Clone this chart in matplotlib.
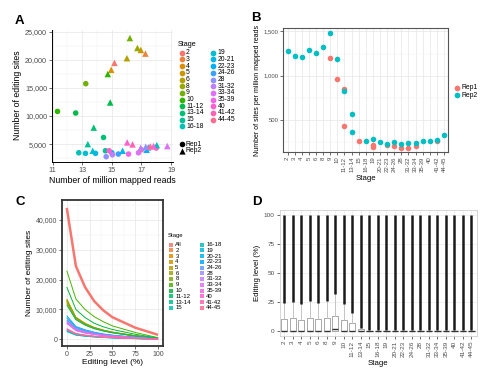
import numpy as np
import matplotlib
matplotlib.use("Agg")
import matplotlib.pyplot as plt
from matplotlib.ticker import FuncFormatter, MultipleLocator

plt.rcParams['font.family'] = ['Liberation Sans', 'DejaVu Sans']

# ---------------- data ----------------
stages = ["2", "3", "4", "5", "6", "8", "9", "10", "11-12", "13-14", "15", "16-18",
          "19", "20-21", "22-23", "24-26", "28", "31-32", "33-34", "35-39", "40",
          "41-42", "44-45"]

# Panel A: Rep1 (circles), stages 9 onward
a_rep1_stage = ["9", "10", "11-12", "13-14", "15", "16-18", "19", "20-21", "22-23",
                "24-26", "28", "31-32", "33-34", "35-39", "40", "41-42", "44-45"]
a_rep1_reads = [13.24, 11.33, 12.56, 14.44, 14.57, 12.77, 13.22, 13.90, 15.00,
                15.44, 14.62, 15.04, 16.80, 16.13, 14.82, 18.00, 17.00]
a_rep1_sites = [15760, 10820, 10530, 6180, 3820, 3460, 3350, 3350, 3460,
                3230, 2760, 3100, 3460, 3230, 3820, 4300, 4000]
# Panel A: Rep2 (triangles), all stages
a_rep2_stage = stages
a_rep2_reads = [15.18, 17.27, 14.96, 16.96, 16.02, 16.73, 16.22, 14.73, 14.89, 13.78,
                13.38, 18.04, 13.71, 15.73, 17.35, 17.46, 17.29, 16.95, 18.75, 17.82,
                16.04, 16.40, 17.60]
a_rep2_sites = [19460, 21110, 18230, 21760, 20290, 22110, 23880, 17470, 12410, 7940,
                5000, 4820, 3820, 3820, 4000, 4410, 4520, 4350, 4650, 4650,
                5300, 4950, 4600]

# Panel B: sites per million mapped reads
b_rep1_stage = ["9", "10", "11-12", "11-12", "15", "19", "19", "22-23", "24-26",
                "28", "31-32", "33-34", "41-42"]
b_rep1_value = [1204, 963, 846, 423, 262, 218, 192, 215, 197, 180, 182, 197, 256]
b_rep2_stage = stages[:10] + ["13-14"] + stages[11:]
b_rep2_value = [1283, 1223, 1215, 1291, 1260, 1325, 1478, 1185, 825, 570, 360,
                262, 285, 250, 228, 252, 226, 236, 236, 254, 260, 273, 321]

# Panel C: cumulative number of editing sites vs editing level
c_x = [0, 10, 20, 30, 40, 50, 75, 100]
c_labels = ["All"] + stages
c_values = [
    [44000, 24500, 17500, 12800, 9700, 7400, 3900, 1500],
    [12500, 6900, 5000, 3700, 2900, 2300, 1150, 300],
    [13500, 7400, 5400, 4000, 3100, 2400, 1200, 330],
    [12000, 6600, 4800, 3600, 2800, 2200, 1100, 300],
    [13000, 7200, 5200, 3900, 3000, 2350, 1200, 320],
    [12800, 7000, 5100, 3800, 2950, 2300, 1150, 320],
    [13200, 7300, 5300, 3950, 3050, 2400, 1200, 330],
    [23000, 13500, 10000, 7600, 5900, 4500, 2300, 550],
    [17500, 10000, 7300, 5400, 4200, 3300, 1700, 420],
    [11500, 6600, 4800, 3600, 2800, 2200, 1100, 280],
    [7300, 4000, 2900, 2200, 1700, 1300, 650, 170],
    [2800, 1500, 1100, 850, 650, 500, 250, 70],
    [2600, 1400, 1050, 780, 600, 470, 230, 60],
    [3100, 1700, 1250, 930, 720, 560, 280, 70],
    [6500, 3600, 2600, 1950, 1500, 1170, 580, 150],
    [7900, 4300, 3200, 2400, 1800, 1400, 700, 180],
    [7100, 3900, 2850, 2100, 1650, 1280, 640, 160],
    [5300, 2900, 2100, 1600, 1200, 950, 480, 120],
    [5800, 3200, 2300, 1750, 1350, 1050, 520, 130],
    [6100, 3350, 2450, 1830, 1400, 1100, 550, 140],
    [5500, 3000, 2200, 1650, 1270, 990, 500, 130],
    [3400, 1870, 1360, 1020, 780, 610, 300, 80],
    [3600, 1980, 1440, 1080, 830, 650, 320, 80],
    [3200, 1760, 1280, 960, 740, 580, 290, 75],
]

# Panel D: editing level box statistics per stage
d_q1 = [0] * 23
d_med = [0, 0, 0, 0, 0, 0, 1.4, 0, 0, 0] + [0] * 13
d_q3 = [10.1, 10.5, 9.2, 11.0, 10.0, 10.5, 12.7, 9.2, 6.9, 1.2] + [0] * 13
d_whislo = [0] * 23
d_whishi = [24.2, 25.0, 23.0, 25.5, 24.0, 25.5, 32.0, 23.0, 15.6, 2.5] + [0.3] * 13
d_out_hi = [100] * 23


# ---------------- helpers ----------------
def hcl(h, c=100.0, l=65.0):
    hr = np.deg2rad(h)
    u, v = c * np.cos(hr), c * np.sin(hr)
    Xn, Yn, Zn = 95.047, 100.0, 108.883
    d = Xn + 15 * Yn + 3 * Zn
    un, vn = 4 * Xn / d, 9 * Yn / d
    Y = Yn * ((l + 16) / 116) ** 3
    up, vp = u / (13 * l) + un, v / (13 * l) + vn
    X = Y * 9 * up / (4 * vp)
    Z = Y * (12 - 3 * up - 20 * vp) / (4 * vp)
    X, Y, Z = X / 100, Y / 100, Z / 100
    rgb = np.array([3.2404542 * X - 1.5371385 * Y - 0.4985314 * Z,
                    -0.9692660 * X + 1.8760108 * Y + 0.0415560 * Z,
                    0.0556434 * X - 0.2040259 * Y + 1.0572252 * Z])
    rgb = np.where(rgb <= 0.0031308, 12.92 * rgb, 1.055 * np.clip(rgb, 0, None) ** (1 / 2.4) - 0.055)
    return tuple(np.clip(rgb, 0, 1))


def hue_pal(n):
    hs = np.linspace(15, 375, n + 1)[:-1] % 360
    return [hcl(h) for h in hs]


W, H = 500, 370
fig = plt.figure(figsize=(W / 100, H / 100), dpi=100)


def px_axes(l, t, r, b):
    return fig.add_axes([l / W, 1 - b / H, (r - l) / W, (b - t) / H])


def style(ax, tick_fs, spine_color, spine_lw, spines=("left", "bottom", "top", "right")):
    for s in ("left", "bottom", "top", "right"):
        ax.spines[s].set_visible(s in spines)
        ax.spines[s].set_color(spine_color)
        ax.spines[s].set_linewidth(spine_lw)
    ax.set_axisbelow(True)
    ax.grid(which='major', color='#e6e6e6', lw=0.5)
    ax.grid(which='minor', color='#f2f2f2', lw=0.35)
    ax.tick_params(which='major', length=2, width=0.5, color='#333333',
                   labelsize=tick_fs, labelcolor='#4d4d4d', pad=1.5)
    ax.tick_params(which='minor', length=0)


comma = FuncFormatter(lambda v, p: f"{int(v):,}")
pal23 = hue_pal(23)
col = dict(zip(stages, pal23))
REP1, REP2 = '#F8766D', '#00BFC4'

ov = fig.add_axes([0, 0, 1, 1])
ov.set_xlim(0, W)
ov.set_ylim(H, 0)
ov.axis('off')

# ---------------- Panel A ----------------
axA = px_axes(52, 29.5, 172.5, 161.7)
axA.scatter(a_rep1_reads, a_rep1_sites, c=[col[s] for s in a_rep1_stage], marker='o',
            s=16, linewidths=0, zorder=3)
axA.scatter(a_rep2_reads, a_rep2_sites, c=[col[s] for s in a_rep2_stage], marker='^',
            s=22, linewidths=0, zorder=3)
axA.set_xlim(10.96, 19.1)
axA.set_ylim(1870, 25400)
axA.set_xticks([11, 13, 15, 17, 19])
axA.xaxis.set_minor_locator(MultipleLocator(1))
axA.set_yticks([5000, 10000, 15000, 20000, 25000])
axA.yaxis.set_minor_locator(MultipleLocator(2500))
axA.yaxis.set_major_formatter(comma)
style(axA, 5.2, 'black', 0.7, spines=("left", "bottom"))
axA.set_xlabel("Number of million mapped reads", fontsize=6.3, labelpad=1.5)
axA.set_ylabel("Number of editing sites", fontsize=6.3, labelpad=2)

# legend A
ov.text(178, 44.5, "Stage", fontsize=5.2, va='center', ha='left')
for i, s in enumerate(stages):
    cx, tx = (181.5, 186) if i < 12 else (213, 217.5)
    yy = 52.7 + (i if i < 12 else i - 12) * 6.7
    ov.scatter([cx], [yy], s=17, color=col[s], linewidths=0)
    ov.text(tx, yy, s, fontsize=4.9, va='center', ha='left')
ov.scatter([181.5], [144], s=16, color='black', marker='o', linewidths=0)
ov.scatter([181.5], [150.7], s=20, color='black', marker='^', linewidths=0)
ov.text(186, 144, "Rep1", fontsize=4.9, va='center', ha='left')
ov.text(186, 150.7, "Rep2", fontsize=4.9, va='center', ha='left')

# ---------------- Panel B ----------------
axB = px_axes(283.3, 28.3, 448.3, 151.7)
pos = {s: i for i, s in enumerate(stages)}
axB.scatter([pos[s] for s in b_rep1_stage], b_rep1_value, color=REP1, s=16, linewidths=0, zorder=3)
axB.scatter([pos[s] for s in b_rep2_stage], b_rep2_value, color=REP2, s=16, linewidths=0, zorder=3)
axB.set_xlim(-0.6, 22.6)
axB.set_ylim(137, 1536)
axB.set_xticks(range(len(stages)))
axB.set_xticklabels(stages, rotation=90)
axB.set_yticks([500, 1000, 1500])
axB.yaxis.set_minor_locator(MultipleLocator(250))
axB.yaxis.set_major_formatter(comma)
style(axB, 4.3, '#555555', 0.8)
axB.set_xlabel("Stage", fontsize=5.6, labelpad=2)
axB.set_ylabel("Number of sites per million mapped reads", fontsize=5.0, labelpad=2)
ov.scatter([456.5], [87.5], s=17, color=REP1, linewidths=0)
ov.scatter([456.5], [95.3], s=17, color=REP2, linewidths=0)
ov.text(462, 87.5, "Rep1", fontsize=4.9, va='center', ha='left')
ov.text(462, 95.3, "Rep2", fontsize=4.9, va='center', ha='left')

# ---------------- Panel C ----------------
axC = px_axes(62.2, 199.5, 162.6, 346)
pal24 = hue_pal(24)
for lab, vals, c in zip(c_labels, c_values, pal24):
    axC.plot(c_x, vals, color=c, lw=1.8 if lab == "All" else 0.7, solid_capstyle='butt')
axC.set_xlim(-5, 105)
axC.set_ylim(-2230, 46800)
axC.set_xticks([0, 25, 50, 75, 100])
axC.xaxis.set_minor_locator(MultipleLocator(12.5))
axC.set_yticks([0, 10000, 20000, 30000, 40000])
axC.yaxis.set_minor_locator(MultipleLocator(5000))
axC.yaxis.set_major_formatter(comma)
style(axC, 5.0, '#333333', 1.3)
axC.set_xlabel("Editing level (%)", fontsize=6.0, labelpad=1)
axC.set_ylabel("Number of editing sites", fontsize=6.0, labelpad=2)

ov.text(168, 236, "Stage", fontsize=4.2, va='center', ha='left')
for i, (lab, c) in enumerate(zip(c_labels, pal24)):
    cx, tx = (170.8, 175.3) if i < 12 else (201.8, 206.3)
    yy = 244.5 + (i if i < 12 else i - 12) * 5.75
    ov.scatter([cx], [yy], s=8.5, marker='s', color=c, alpha=0.85, linewidths=0)
    ov.text(tx, yy, lab, fontsize=4.3, va='center', ha='left')

# ---------------- Panel D ----------------
axD = px_axes(279.5, 210, 477, 335.7)
bstats = []
for i, s in enumerate(stages):
    bstats.append(dict(med=d_med[i], q1=d_q1[i], q3=d_q3[i], whislo=d_whislo[i],
                       whishi=d_whishi[i], fliers=[], label=s))
axD.bxp(bstats, positions=range(len(stages)), widths=0.75, patch_artist=True,
        boxprops=dict(facecolor='white', edgecolor='#9a9a9a', lw=0.6),
        whiskerprops=dict(color='#bdbdbd', lw=0.6), capprops=dict(lw=0),
        medianprops=dict(color='#333333', lw=1.0), showcaps=False)
axD.vlines(range(len(stages)), d_whishi, d_out_hi, color='#1a1a1a', lw=1.8, zorder=4)
axD.set_xlim(-0.55, 22.65)
axD.set_ylim(-4.5, 104.5)
axD.set_xticks(range(len(stages)))
axD.set_xticklabels(stages, rotation=90)
axD.set_yticks([0, 25, 50, 75, 100])
style(axD, 4.6, '#d0d0d0', 0.6)
axD.grid(which='major', color='#ececec', lw=0.5)
axD.set_xlabel("Stage", fontsize=5.6, labelpad=2)
axD.set_ylabel("Editing level (%)", fontsize=5.6, labelpad=2)

# panel letters
for lab, x, y in [("A", 14.5, 21.5), ("B", 251.5, 18), ("C", 15, 202), ("D", 252.5, 202)]:
    ov.text(x, y, lab, fontsize=9.5, fontweight='bold', ha='left', va='center')

fig.savefig("out.png", dpi=100)
